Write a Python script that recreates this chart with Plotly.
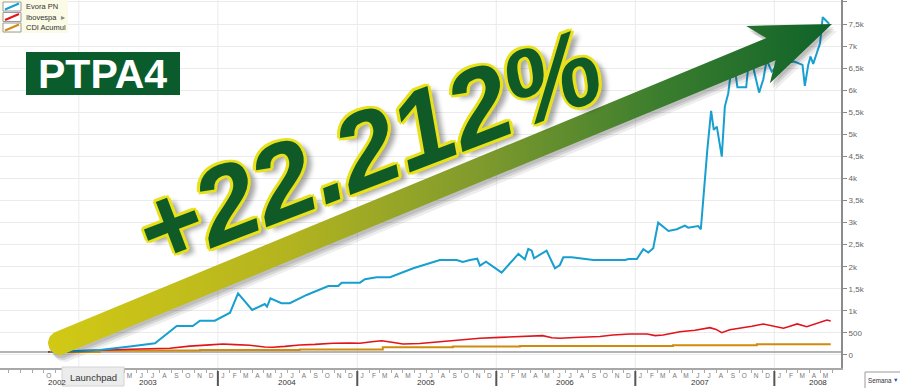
import numpy as np
import pandas as pd
import plotly.graph_objects as go

W, H = 900, 388

# ---------------- data ----------------
evora_dates = ["2002-10-17","2003-02-25","2003-05-15","2003-07-20","2003-09-15","2003-10-27","2003-11-15","2003-12-24",
 "2004-02-02","2004-02-23","2004-03-31","2004-05-03","2004-05-09","2004-05-18","2004-06-16","2004-07-08","2004-08-21",
 "2004-10-17","2004-11-12","2004-11-21","2005-01-08","2005-01-21","2005-02-21","2005-03-28","2005-05-28","2005-08-06",
 "2005-09-19","2005-10-05","2005-10-24","2005-11-12","2005-11-19","2005-12-05","2006-01-15","2006-02-28","2006-03-17",
 "2006-03-26","2006-04-04","2006-04-10","2006-05-13","2006-06-04","2006-06-17","2006-06-26","2006-07-18","2006-09-13",
 "2006-12-05","2006-12-14","2007-01-05","2007-01-22","2007-02-04","2007-02-17","2007-03-02","2007-03-29","2007-04-20",
 "2007-05-11","2007-05-20","2007-06-15","2007-06-22","2007-06-28","2007-07-09","2007-07-19","2007-07-26","2007-08-03",
 "2007-08-16","2007-08-24","2007-09-02","2007-09-08","2007-09-15","2007-09-20","2007-09-26","2007-10-19","2007-10-25",
 "2007-11-07","2007-11-22","2007-12-03","2007-12-12","2007-12-25","2008-01-16","2008-02-22","2008-03-15","2008-03-21",
 "2008-03-30","2008-04-05","2008-04-12","2008-04-30","2008-05-07","2008-05-24"]
evora_vals = [70,113,190,265,657,657,778,778,
 959,1398,1020,1156,1095,1285,1172,1172,1360,
 1564,1564,1639,1639,1716,1761,1761,1965,2154,
 2154,2108,2154,2183,2024,2115,1866,2290,2169,
 2403,2364,2192,2364,1965,2040,2215,2215,2154,
 2154,2176,2176,2396,2320,2419,2999,2811,2849,
 2931,2886,2924,2849,3514,4647,5531,5101,5176,
 4496,5629,5933,6348,6310,6438,6068,6068,6574,
 6499,5946,6250,6687,6423,6600,6649,6574,6098,
 6574,6763,6597,7066,7655,7504]

ibov_dates = ["2002-10-12","2002-11-12","2002-12-21","2003-02-25","2003-04-18","2003-06-10","2003-08-28","2003-10-19",
 "2003-12-11","2004-01-14","2004-02-15","2004-03-25","2004-05-03","2004-05-24","2004-06-25","2004-08-03","2004-09-12",
 "2004-10-29","2004-12-13","2005-01-08","2005-02-08","2005-03-06","2005-04-02","2005-05-01","2005-06-14","2005-08-06",
 "2005-10-05","2005-11-19","2006-01-11","2006-02-14","2006-03-30","2006-05-03","2006-05-27","2006-06-17","2006-07-26",
 "2006-08-27","2006-09-30","2006-11-03","2006-12-18","2007-02-01","2007-02-22","2007-03-15","2007-04-28","2007-06-07",
 "2007-07-16","2007-08-01","2007-08-16","2007-09-06","2007-10-03","2007-11-03","2007-12-03","2007-12-26","2008-01-25",
 "2008-02-11","2008-03-01","2008-03-26","2008-04-17","2008-05-18","2008-05-28"]
ibov_vals = [70,80,95,113,120,135,152,200,
 230,249,235,220,180,175,195,227,240,
 265,270,265,300,324,290,249,260,302,
 340,378,400,415,425,438,390,378,395,
 401,420,453,476,476,440,453,528,560,
 619,580,505,570,605,650,703,660,605,
 650,703,642,700,793,771]

cdi_dates = ["2002-10-12","2003-02-25","2003-11-15","2004-08-03","2005-03-09","2005-09-09","2006-03-04",
 "2007-04-10","2007-11-16","2008-05-28"]
cdi_vals = [70,100,113,125,175,190,204,220,242,242]

baseline_val = 70

series_names = ["Evora PN", "Ibovespa", "CDI Acumul"]

ytick_vals = [0,500,1000,1500,2000,2500,3000,3500,4000,4500,5000,5500,6000,6500,7000,7500,8000]
ytick_text = ["0","500","1k","1,5k","2k","2,5k","3k","3,5k","4k","4,5k","5k","5,5k","6k","6,5k","7k","7,5k","8k"]

month_letters = ["J","F","M","A","M","J","J","A","S","O","N","D"]
hidden_months = ["2002-11","2002-12","2003-01","2003-02","2003-03","2003-04"]  # under the Launchpad tooltip
year_starts = ["2003-01-01","2004-01-01","2005-01-01","2006-01-01","2007-01-01","2008-01-01"]
year_labels = ["2002","2003","2004","2005","2006","2007","2008"]
year_label_pos = ["2002-11-05","2003-07-01","2004-07-01","2005-07-01","2006-07-01","2007-06-20","2008-04-25"]

ticker_label = "PTPA4"
gain_label = "+22.212%"

# ---------------- styles ----------------
C_BLUE = "#179fd0"
C_RED = "#e1141c"
C_ORANGE = "#d08b0c"
FONT = "Liberation Sans, Arial, sans-serif"

x_range = ["2002-06-08", "2008-06-24"]
y_range = [-295, 8045]
plot_right = 841
plot_bottom = 368

fig = go.Figure()

# main series
fig.add_trace(go.Scatter(x=cdi_dates, y=cdi_vals, mode="lines", line=dict(color=C_ORANGE, width=2, shape="hv"),
                         name=series_names[2], showlegend=False, hoverinfo="skip"))
fig.add_trace(go.Scatter(x=ibov_dates, y=ibov_vals, mode="lines", line=dict(color=C_RED, width=1.6),
                         name=series_names[1], showlegend=False, hoverinfo="skip"))
fig.add_trace(go.Scatter(x=evora_dates, y=evora_vals, mode="lines", line=dict(color=C_BLUE, width=2),
                         name=series_names[0], showlegend=False, hoverinfo="skip"))

# ---------------- decorative arrow (pixel overlay axes) ----------------
tail = np.array([60.0, 343.0])
tip = np.array([832.0, 24.0])
u = (tip - tail) / np.linalg.norm(tip - tail)
n = np.array([-u[1], u[0]])
if n[1] < 0:
    n = -n
hw, head_len, head_hw, notch = 12.0, 80.0, 31.0, 14.0
J = tip - (head_len - notch) * u
C = tip - head_len * u
pts = [J - hw * n, C - head_hw * n, tip, C + head_hw * n, J + hw * n, tail + hw * n]
ang = np.linspace(0, np.pi, 24)
for a in ang:
    pts.append(tail + hw * (np.cos(a) * n - np.sin(a) * u))
pts.append(J - hw * n)
pts = np.array(pts)

for dx, dy, op in [(5, 7, 0.07), (3, 5, 0.10), (2, 3, 0.10)]:
    fig.add_trace(go.Scatter(x=pts[:, 0] + dx, y=pts[:, 1] + dy, xaxis="x2", yaxis="y2", mode="lines",
                             fill="toself", fillcolor=f"rgba(0,0,0,{op})", line=dict(width=0),
                             showlegend=False, hoverinfo="skip"))
fig.add_trace(go.Scatter(x=pts[:, 0], y=pts[:, 1], xaxis="x2", yaxis="y2", mode="lines", fill="toself",
                         fillgradient=dict(type="horizontal", start=50, stop=835,
                                           colorscale=[[0, "#d2c915"], [0.3, "#b4b41f"], [0.55, "#7f9a2d"],
                                                       [0.78, "#3a7d2e"], [1, "#0e6229"]]),
                         line=dict(width=0), showlegend=False, hoverinfo="skip"))

# ---------------- shapes ----------------
shapes = []
for ys in year_starts:
    shapes.append(dict(type="line", xref="x", yref="y domain", x0=ys, x1=ys, y0=0, y1=1,
                       line=dict(color="#ebebeb", width=1), layer="below"))
    shapes.append(dict(type="line", xref="x", yref="paper", x0=ys, x1=ys, y0=(H - 386) / H, y1=(H - 371) / H,
                       line=dict(color="#555555", width=2), layer="above"))
shapes.append(dict(type="line", xref="x domain", yref="y", x0=0, x1=1, y0=baseline_val, y1=baseline_val,
                   line=dict(color="#9a9a9a", width=1.5), layer="below"))

# legend box
shapes.append(dict(type="rect", xref="x2", yref="y2", x0=0, x1=68, y0=0, y1=33,
                   fillcolor="#fafae6", line=dict(width=0)))
leg_colors = [C_BLUE, C_RED, C_ORANGE]
leg_rows = [6.5, 17, 27.5]
for c, ry in zip(leg_colors, leg_rows):
    shapes.append(dict(type="rect", xref="x2", yref="y2", x0=3, x1=21, y0=ry - 4.5, y1=ry + 4.5,
                       fillcolor="#ffffff", line=dict(color="#9a9a9a", width=1)))
    shapes.append(dict(type="line", xref="x2", yref="y2", x0=5, x1=19, y0=ry + 3, y1=ry - 3,
                       line=dict(color=c, width=2)))

# PTPA4 box
shapes.append(dict(type="rect", xref="x2", yref="y2", x0=26, x1=180, y0=52, y1=95,
                   fillcolor="#0b5c2d", line=dict(width=0)))
# Launchpad tooltip
shapes.append(dict(type="rect", xref="x2", yref="y2", x0=62, x1=124, y0=367, y1=386,
                   fillcolor="#ececec", line=dict(color="#d4d4d4", width=1)))
# Semana dropdown
shapes.append(dict(type="rect", xref="x2", yref="y2", x0=865, x1=901, y0=372, y1=389,
                   fillcolor="#ffffff", line=dict(color="#9a9a9a", width=1)))

# ---------------- annotations ----------------
ann = []
for name, ry in zip(series_names, leg_rows):
    ann.append(dict(xref="x2", yref="y2", x=24, y=ry, text=name, showarrow=False, xanchor="left",
                    yanchor="middle", font=dict(family=FONT, size=7.5, color="#333333")))
ann.append(dict(xref="x2", yref="y2", x=63, y=17, text="▸", showarrow=False, xanchor="center",
                yanchor="middle", font=dict(family=FONT, size=8, color="#888888")))

for lab, pos in zip(year_labels, year_label_pos):
    ann.append(dict(xref="x", yref="y2", x=pos, y=382, text=lab, showarrow=False, xanchor="center",
                    yanchor="middle", font=dict(family=FONT, size=8, color="#333333")))

ann.append(dict(xref="x2", yref="y2", x=93, y=377, text="Launchpad", showarrow=False,
                font=dict(family=FONT, size=9.5, color="#333333")))
ann.append(dict(xref="x2", yref="y2", x=866, y=380, text="Semana", showarrow=False, xanchor="left",
                font=dict(family=FONT, size=6.3, color="#333333")))
ann.append(dict(xref="x2", yref="y2", x=900, y=380, text="▼", showarrow=False, xanchor="right",
                font=dict(family=FONT, size=5.5, color="#1a4fd0")))

ann.append(dict(xref="x2", yref="y2", x=102, y=74, text=ticker_label, showarrow=False,
                font=dict(family=FONT, size=41, color="#ffffff", weight="bold")))

Y = "#e8e11c"
sh = ", ".join([f"{a}px {b}px 0 {Y}" for a, b in
                [(2, 0), (-2, 0), (0, 2), (0, -2), (2, 2), (-2, -2), (2, -2), (-2, 2),
                 (3, 1), (1, 3), (-3, -1), (-1, -3)]])
sh += ", 6px 6px 5px rgba(0,0,0,0.35)"
ann.append(dict(xref="x2", yref="y2", x=367, y=148, text=gain_label, showarrow=False, textangle=-21,
                font=dict(family=FONT, size=108, color="#0f5a26",
                          weight="bold", style="italic", shadow=sh)))

# ---------------- month ticks ----------------
month_starts = pd.date_range("2002-10-01", "2008-05-01", freq="MS")
month_starts = [d for d in month_starts if d.strftime("%Y-%m") not in hidden_months]
month_tickvals = [d + pd.Timedelta(days=13) for d in month_starts]
month_ticktext = [month_letters[d.month - 1] for d in month_starts]

fig.update_layout(
    width=W, height=H, margin=dict(l=0, r=0, t=0, b=0),
    paper_bgcolor="#ffffff", plot_bgcolor="rgba(0,0,0,0)",
    showlegend=False,
    xaxis=dict(domain=[0, plot_right / W], range=x_range, type="date",
               tickmode="array", tickvals=month_tickvals, ticktext=month_ticktext,
               tickfont=dict(family=FONT, size=6.5, color="#777777"), ticks="",
               showgrid=False, zeroline=False, showline=True, linecolor="#a8a8a8", linewidth=2,
               minor=dict(ticks="outside", ticklen=3, tickcolor="#aaaaaa", dtick="M1",
                          tick0="2002-01-01", showgrid=False),
               fixedrange=True),
    yaxis=dict(domain=[(H - plot_bottom) / H, 1], range=y_range, side="right", anchor="x",
               tickmode="array", tickvals=ytick_vals, ticktext=ytick_text,
               tickfont=dict(family=FONT, size=8, color="#666666"),
               ticks="outside", ticklen=4, tickcolor="#888888",
               showgrid=True, gridcolor="#ebebeb", gridwidth=1, zeroline=False,
               showline=True, linecolor="#8c8c8c", linewidth=2, fixedrange=True),
    xaxis2=dict(domain=[0, 1], range=[0, W], visible=False, anchor="y2", fixedrange=True),
    yaxis2=dict(domain=[0, 1], range=[H, 0], visible=False, anchor="x2", fixedrange=True),
    shapes=shapes, annotations=ann,
)

fig.write_html("out.html")
